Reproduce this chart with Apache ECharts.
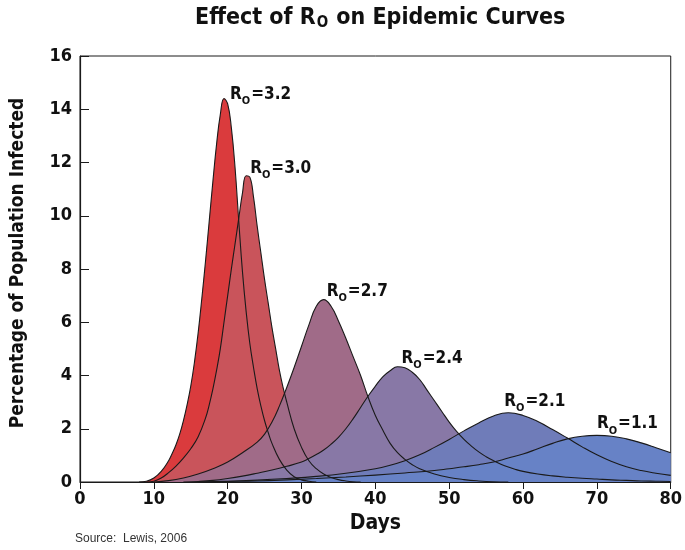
<!DOCTYPE html>
<html><head><meta charset="utf-8">
<script src="https://cdn.jsdelivr.net/npm/echarts@6/dist/echarts.min.js"></script>
<style>html,body{margin:0;padding:0;background:#fff}#c{width:685px;height:550px}</style>
</head><body><div id="c"></div>
<script>
// Data: [day, percentage infected]
var r32 = [[8,0],[9,0.03],[10,0.15],[11,0.4],[12,0.8],[12.5,1.08],[13,1.4],[13.5,1.8],[14,2.3],[14.5,2.9],[15,3.6],[15.5,4.5],[16,5.6],[16.5,6.9],[17,8.3],[17.5,9.8],[18,11.3],[18.5,12.7],[19,13.8],[19.5,14.4],[20,14.2],[20.5,13.3],[21,11.8],[21.5,9.8],[22,7.9],[22.5,6.4],[23,5.2],[23.5,4.3],[24,3.5],[24.5,2.85],[25,2.3],[25.5,1.85],[26,1.45],[27,0.85],[28,0.45],[29,0.2],[30,0.08],[31,0.03],[32,0]];
var r30 = [[9,0],[10,0.03],[11,0.15],[12,0.35],[13,0.6],[14,0.9],[15,1.25],[16,1.7],[17,2.4],[17.5,2.9],[18,3.5],[18.5,4.2],[19,5.0],[19.5,6.0],[20,7.0],[20.5,8.0],[21,8.95],[21.5,9.9],[22,10.85],[22.5,11.5],[23,11.45],[23.5,10.7],[24,9.6],[24.5,8.6],[25,7.6],[25.5,6.7],[26,5.8],[26.5,5.0],[27,4.2],[27.5,3.55],[28,3.0],[29,2.0],[30,1.3],[31,0.8],[32,0.5],[33,0.3],[34,0.17],[35,0.09],[36,0.04],[37,0.01],[38,0]];
var r27 = [[10,0],[12,0.05],[14,0.15],[16,0.3],[18,0.5],[20,0.75],[22,1.1],[24,1.5],[25,1.8],[26,2.25],[27,2.85],[28,3.55],[29,4.3],[30,5.1],[31,5.9],[32,6.6],[33,6.85],[34,6.6],[35,6.05],[36,5.4],[37,4.7],[38,4.0],[39,3.2],[40,2.5],[41,1.95],[42,1.45],[43,1.1],[44,0.85],[45,0.65],[46,0.5],[48,0.3],[50,0.17],[52,0.09],[54,0.04],[56,0.01],[58,0]];
var r24 = [[14,0],[16,0.02],[18,0.06],[20,0.13],[22,0.22],[24,0.33],[26,0.45],[28,0.59],[30,0.75],[31,0.88],[32,1.03],[33,1.2],[34,1.42],[35,1.68],[36,2.0],[37,2.38],[38,2.8],[39,3.22],[40,3.6],[41,3.95],[42,4.18],[43,4.33],[44,4.29],[45,4.12],[46,3.85],[47,3.45],[48,3.05],[49,2.65],[50,2.25],[51,1.9],[52,1.6],[53,1.35],[54,1.13],[55,0.95],[56,0.8],[57,0.67],[58,0.56],[59,0.47],[60,0.4],[62,0.3],[64,0.23],[66,0.18],[68,0.14],[70,0.11],[72,0.08],[74,0.06],[76,0.04],[78,0.03],[80,0.02]];
var r21 = [[16,0],[20,0.03],[24,0.07],[28,0.13],[32,0.21],[36,0.33],[40,0.5],[42,0.63],[44,0.8],[46,1.02],[48,1.3],[50,1.6],[52,1.92],[54,2.22],[56,2.48],[58,2.6],[60,2.5],[62,2.27],[64,1.97],[66,1.65],[68,1.32],[70,1.02],[72,0.77],[74,0.57],[76,0.43],[78,0.33],[80,0.25]];
var r11 = [[16,0],[20,0.02],[24,0.04],[28,0.08],[32,0.13],[36,0.19],[40,0.26],[44,0.34],[48,0.43],[50,0.5],[52,0.57],[54,0.65],[56,0.75],[58,0.9],[60,1.05],[62,1.25],[64,1.45],[66,1.62],[68,1.72],[70,1.75],[72,1.72],[74,1.62],[76,1.47],[78,1.29],[80,1.1]];
var curves = [r32, r30, r27, r24, r21, r11];
var curveNames = ['3.2', '3.0', '2.7', '2.4', '2.1', '1.1'];
var xTicks = [0, 10, 20, 30, 40, 50, 60, 70, 80];
var yTicks = [0, 2, 4, 6, 8, 10, 12, 14, 16];

// Styles
var fills = ['#da3b3d', '#c9545b', '#a06b88', '#8878a6', '#6f7cb9', '#6782c6'];
var labelOffsets = [[6, -5], [4, -8], [3, -9], [4, -9], [-4, -12], [0, -12]];
var FONT = '"Liberation Sans Narrow", "DejaVu Sans Condensed", "Roboto Condensed", sans-serif';
var INK = '#111';

var series = [];
curves.forEach(function (d, i) {
  series.push({
    type: 'line', name: 'fill' + i, data: d, smooth: 0.45, symbol: 'none',
    lineStyle: { width: 0 }, areaStyle: { color: fills[i], opacity: 1 },
    z: 2 + i, silent: true
  });
});
curves.forEach(function (d, i) {
  series.push({
    type: 'line', name: 'line' + i, data: d, smooth: 0.45, symbol: 'none',
    lineStyle: { width: 1.1, color: '#1a1a1a' }, z: 20, silent: true
  });
});
var labelData = curves.map(function (d, i) {
  var pk = d.reduce(function (a, b) { return b[1] > a[1] ? b : a; });
  return {
    value: pk,
    label: {
      show: true, position: 'right', distance: 0, offset: labelOffsets[i],
      formatter: '{r|R}{s|O}{r|=' + curveNames[i] + '}'
    }
  };
});
series.push({
  type: 'scatter', data: labelData, symbol: 'circle', symbolSize: 0,
  itemStyle: { color: INK, opacity: 1 }, z: 30, silent: true,
  label: {
    show: true, color: INK, opacity: 1, fontFamily: FONT,
    rich: {
      r: { fontSize: 17, fontWeight: 'bold', fontFamily: FONT, color: INK, verticalAlign: 'bottom', lineHeight: 18 },
      s: { fontSize: 11, fontWeight: 'bold', fontFamily: FONT, color: INK, verticalAlign: 'bottom', lineHeight: 12, padding: [0, 1, -4, 0] }
    }
  }
});

var chart = echarts.init(document.getElementById('c'), null, { renderer: 'canvas' });
chart.setOption({
  animation: false,
  backgroundColor: '#fff',
  title: {
    text: 'Effect of R{s|O} on Epidemic Curves', left: 190, top: 2,
    textStyle: {
      fontFamily: FONT, fontSize: 23, fontWeight: 'bold', color: INK,
      rich: { s: { fontFamily: FONT, fontSize: 15, fontWeight: 'bold', color: INK, padding: [0, 1, -10, 1] } }
    }
  },
  grid: { left: 80, right: 12, top: 56, bottom: 68, show: true, borderColor: '#1a1a1a', borderWidth: 1, backgroundColor: 'transparent' },
  xAxis: {
    type: 'value', min: xTicks[0], max: xTicks[xTicks.length - 1], interval: 10,
    name: 'Days', nameLocation: 'middle', nameGap: 30,
    nameTextStyle: { fontFamily: FONT, fontSize: 21, fontWeight: 'bold', color: INK },
    axisLine: { show: true, lineStyle: { color: '#1a1a1a', width: 1.2 } },
    axisTick: { show: true, inside: false, length: 7, lineStyle: { color: '#1a1a1a' } },
    axisLabel: { margin: 8, fontFamily: FONT, fontSize: 18, fontWeight: 'bold', color: INK },
    splitLine: { show: false }
  },
  yAxis: {
    type: 'value', min: yTicks[0], max: yTicks[yTicks.length - 1], interval: 2,
    name: 'Percentage of Population Infected', nameLocation: 'middle', nameGap: 52,
    nameTextStyle: { fontFamily: FONT, fontSize: 19, fontWeight: 'bold', color: INK, padding: [0, 0, 0, 12] },
    axisLine: { show: true, lineStyle: { color: '#1a1a1a', width: 1.2 } },
    axisTick: { show: true, inside: true, length: 9, lineStyle: { color: '#1a1a1a' } },
    axisLabel: { margin: 8, fontFamily: FONT, fontSize: 18, fontWeight: 'bold', color: INK },
    splitLine: { show: false }
  },
  graphic: [{
    type: 'text', left: 75, top: 533,
    style: { text: 'Source:  Lewis, 2006', fontFamily: '"Liberation Sans", Arial, sans-serif', fontSize: 12, fill: '#333' }
  }],
  series: series
});
</script></body></html>
